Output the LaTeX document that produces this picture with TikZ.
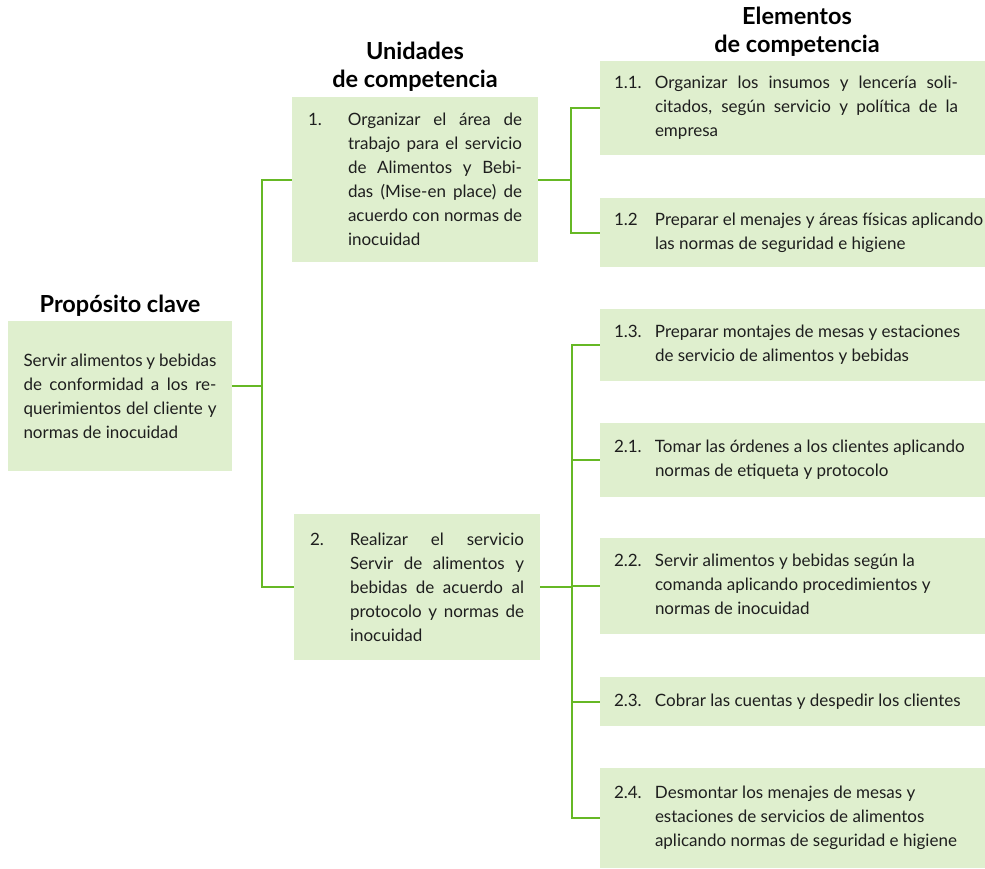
\documentclass[tikz,border=0pt]{standalone}
\usepackage{fontspec}
\setmainfont{Lato}
\definecolor{G1}{HTML}{DFEFCE}
\definecolor{G2}{HTML}{66B825}
\definecolor{T1}{HTML}{1E1E1E}
\tikzset{CBox/.style 2 args = {
    rectangle,
    minimum width = #1,
    minimum height = #2,
    inner sep = 0pt,
    fill = G1,
    text = T1,
    font = \fontsize{17}{24}\selectfont,
}}
\tikzset{Head/.style = {
    align = center,
    font = \fontsize{23.5}{28}\selectfont\bfseries,
}}
\tikzset{Link/.style = {draw = G2, line width = 2pt}}
\newcommand{\hangitem}[4]{\makebox[#1][l]{#2}\parbox[t]{#3}{#4}}
\newcommand{\rlines}[1]{\begin{tabular}[t]{@{}l@{}}#1\end{tabular}}

\begin{document}
\begin{tikzpicture}[x=1pt,y=-1pt]
  \useasboundingbox (0,0) rectangle (985,868);
  % headings
  \node[Head](hpc) at (120,306) {Propósito clave};
  \node[Head](hu)  at (415,67)  {Unidades\\de competencia};
  \node[Head](he)  at (797,32)  {Elementos\\de competencia};
  % key purpose
  \node[CBox={224}{150}](pc) at (120,396) {\parbox[t]{193pt}{Servir alimentos y bebidas\linebreak
    de conformidad a los re-\linebreak querimientos del cliente y\linebreak normas de inocuidad}};
  % units
  \node[CBox={246}{165}](u1) at (415,179.5) {\hangitem{40pt}{1.}{174pt}{Organizar el área de\linebreak
    trabajo para el servicio\linebreak de Alimentos y Bebi-\linebreak das (Mise-en place) de\linebreak
    acuerdo con normas de\linebreak inocuidad}};
  \node[CBox={246}{146}](u2) at (417,587) {\hangitem{40pt}{2.}{174pt}{Realizar el servicio\linebreak
    Servir de alimentos y\linebreak bebidas de acuerdo al\linebreak protocolo y normas de\linebreak inocuidad}};
  % elements
  \node[CBox={385}{94}](e11) at (792.5,108) {\hangitem{41pt}{1.1.}{316pt}{\parbox[t]{303pt}{Organizar los insumos y lencería soli-\linebreak
    citados, según servicio y política de la\linebreak empresa}}};
  \node[CBox={385}{69}](e12) at (792.5,232.5) {\hangitem{41pt}{1.2}{316pt}{\rlines{Preparar el menajes y áreas físicas aplicando\\
    las normas de seguridad e higiene}}};
  \node[CBox={385}{72}](e13) at (792.5,345) {\hangitem{41pt}{1.3.}{316pt}{\rlines{Preparar montajes de mesas y estaciones\\
    de servicio de alimentos y bebidas}}};
  \node[CBox={385}{74}](e21) at (792.5,460) {\hangitem{41pt}{2.1.}{316pt}{\rlines{Tomar las órdenes a los clientes aplicando\\
    normas de etiqueta y protocolo}}};
  \node[CBox={385}{96}](e22) at (792.5,586) {\hangitem{41pt}{2.2.}{316pt}{\rlines{Servir alimentos y bebidas según la\\
    comanda aplicando procedimientos y\\ normas de inocuidad}}};
  \node[CBox={385}{49}](e23) at (792.5,701.5) {\hangitem{41pt}{2.3.}{316pt}{\rlines{Cobrar las cuentas y despedir los clientes}}};
  \node[CBox={385}{100}](e24) at (792.5,818) {\hangitem{41pt}{2.4.}{316pt}{\rlines{Desmontar los menajes de mesas y\\
    estaciones de servicios de alimentos\\ aplicando normas de seguridad e higiene}}};
  % junctions
  \coordinate (j1) at (262,386);
  \coordinate (j2) at (571,179.5);
  \coordinate (j3) at (572,587);
  % connectors
  \draw[Link](pc.east |- j1) -- (j1);
  \draw[Link](u1.west) -| (j1) |- (u2.west);
  \draw[Link](u1.east) -- (j2);
  \draw[Link](e11.west) -| (j2) |- (e12.west);
  \draw[Link](u2.east) -- (j3);
  \draw[Link](e13.west) -| (j3) |- (e24.west);
  \foreach \n in {e21,e22,e23}
    \draw[Link](j3 |- \n.west) -- (\n.west);
\end{tikzpicture}
\end{document}
